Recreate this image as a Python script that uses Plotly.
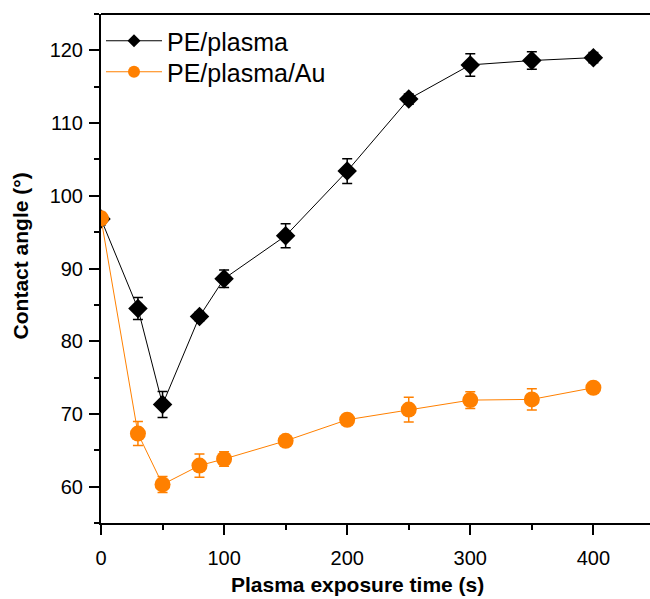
import plotly.graph_objects as go

time_s = [0, 30, 50, 80, 100, 150, 200, 250, 300, 350, 400]
pe_plasma = [96.8, 84.5, 71.3, 83.4, 88.6, 94.5, 103.4, 113.3, 118.0, 118.6, 119.0]
pe_plasma_err = [0.8, 1.5, 1.8, 0.6, 1.2, 1.65, 1.7, 0.7, 1.55, 1.2, 0.7]
pe_plasma_au = [96.9, 67.3, 60.3, 62.9, 63.8, 66.3, 69.2, 70.6, 71.9, 72.0, 73.6]
pe_plasma_au_err = [0.8, 1.65, 1.1, 1.6, 1.0, 0.5, 0.6, 1.7, 1.15, 1.45, 0.5]

FONT = "Arial, Liberation Sans, sans-serif"
ORANGE = "#FF8000"

fig = go.Figure()
fig.add_trace(go.Scatter(
    x=time_s, y=pe_plasma, name="PE/plasma", mode="lines+markers",
    line=dict(color="#000000", width=1),
    marker=dict(symbol="diamond", size=15, color="#000000"),
    error_y=dict(type="data", array=pe_plasma_err, visible=True,
                 color="#000000", thickness=1.5, width=5),
    showlegend=False,
))
fig.add_trace(go.Scatter(
    x=time_s, y=pe_plasma_au, name="PE/plasma/Au", mode="lines+markers",
    line=dict(color=ORANGE, width=1),
    marker=dict(symbol="circle", size=16, color=ORANGE),
    error_y=dict(type="data", array=pe_plasma_au_err, visible=True,
                 color=ORANGE, thickness=1.5, width=5),
    showlegend=False,
))
# legend entries (smaller symbols, as in the original key)
fig.add_trace(go.Scatter(
    x=[None], y=[None], name="PE/plasma", mode="lines+markers",
    line=dict(color="#000000", width=1),
    marker=dict(symbol="diamond", size=10, color="#000000"),
    legend="legend",
))
fig.add_trace(go.Scatter(
    x=[None], y=[None], name="PE/plasma/Au", mode="lines+markers",
    line=dict(color=ORANGE, width=1),
    marker=dict(symbol="circle", size=12, color=ORANGE),
    legend="legend2",
))

axis_common = dict(
    showgrid=False, zeroline=False, showline=True, linecolor="#000000",
    linewidth=2, ticks="outside", ticklen=10, tickwidth=2, tickcolor="#000000",
    tickfont=dict(family=FONT, size=20, color="#000000"),
)
fig.update_xaxes(range=[0, 446], tickmode="linear", tick0=0, dtick=100,
                 minor=dict(dtick=50, ticks="outside", ticklen=5, tickwidth=2,
                            tickcolor="#000000"),
                 ticklabelstandoff=6, **axis_common)
fig.update_yaxes(range=[55, 125], tickmode="linear", tick0=0, dtick=10,
                 minor=dict(dtick=5, ticks="outside", ticklen=5, tickwidth=2,
                            tickcolor="#000000"),
                 ticklabelstandoff=2, **axis_common)

fig.add_shape(type="line", xref="paper", yref="paper", x0=0, x1=1, y0=1, y1=1,
              line=dict(color="#000000", width=2))

fig.add_annotation(text="<b>Plasma exposure time (s)</b>", xref="paper", yref="paper",
                   x=(357.5 - 101) / 549, y=-0.12, xanchor="center", yanchor="middle",
                   showarrow=False, font=dict(family=FONT, size=21, color="#000000"))
fig.add_annotation(text="<b>Contact angle (°)</b>", xref="paper", yref="paper",
                   x=-0.145, y=(523 - 256) / 509, xanchor="center", yanchor="middle",
                   textangle=-90, showarrow=False,
                   font=dict(family=FONT, size=21, color="#000000"))

legend_common = dict(x=0, xanchor="left", yanchor="top", bgcolor="rgba(0,0,0,0)",
                     font=dict(family=FONT, size=25, color="#000000"), itemwidth=56)

fig.update_layout(
    width=650, height=599,
    margin=dict(l=101, r=0, t=14, b=76),
    paper_bgcolor="white", plot_bgcolor="white",
    showlegend=True,
    legend=dict(y=1 - 4 / 509, **legend_common),
    legend2=dict(y=1 - 35 / 509, **legend_common),
)

fig.write_html("out.html")
